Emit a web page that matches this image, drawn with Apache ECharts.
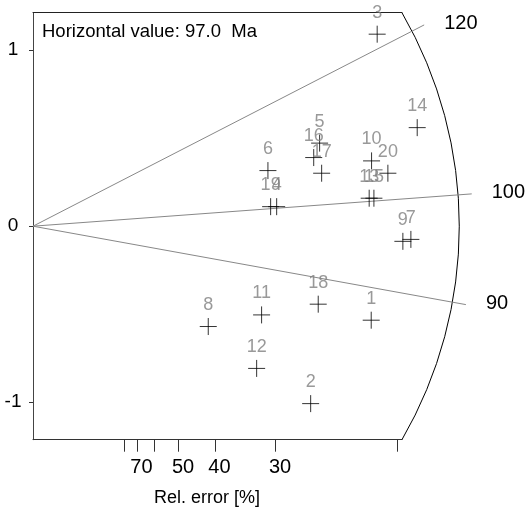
<!DOCTYPE html>
<html>
<head>
<meta charset="utf-8">
<script src="https://cdn.jsdelivr.net/npm/echarts@6/dist/echarts.min.js"></script>
<style>
html,body{margin:0;padding:0;background:#fff;}
#chart{width:528px;height:511px;}
</style>
</head>
<body>
<div id="chart"></div>
<script>
// ---- data ----
const pointLabels = ['1','2','3','4','5','6','7','8','9','10','11','12','13','14','15','16','17','18','19','20'];
// precision (1 / relative error)
const precision = [4.647,3.815,4.729,3.348,3.938,3.228,5.192,2.408,5.082,4.652,3.141,3.073,4.619,5.279,4.684,3.857,3.966,3.919,3.265,4.876];
// standardised estimate
const stdEstimate = [-0.534,-1.008,1.091,0.111,0.472,0.316,-0.075,-0.570,-0.086,0.371,-0.504,-0.808,0.159,0.560,0.159,0.390,0.301,-0.443,0.111,0.301];
const centralValue = 97.0;              // Ma
const zLineValues = [90, 100, 120];     // radial lines (Ma)
const relErrTicks = [80, 70, 60, 50, 40, 30, 20];   // %
const relErrLabels = [70, 50, 40, 30];              // %
const yTicks = [-1, 0, 1];
const xMax = 5.07;
const yMax = 1.213;
const arcPrecision = 5.857;   // where the z-arc crosses the horizontal

const FONT = '"Liberation Sans", Arial, Helvetica, sans-serif';
const chart = echarts.init(document.getElementById('chart'), null, {renderer: 'canvas'});

const option = {
  animation: false,
  backgroundColor: '#fff',
  textStyle: {fontFamily: FONT},
  grid: {left: 33, right: 126, top: 12.7, bottom: 71.3, containLabel: false},
  graphic: [
    {type: 'text', x: 42, y: 32, style: {text: 'Horizontal value: 97.0  Ma', font: '18.5px ' + FONT, fill: '#000', align: 'left', verticalAlign: 'middle'}},
    {type: 'text', x: 207, y: 498, style: {text: 'Rel. error [%]', font: '18px ' + FONT, fill: '#000', align: 'center', verticalAlign: 'middle'}}
  ],
  xAxis: [
    {
      type: 'value', min: 0, max: xMax, position: 'bottom',
      axisLine: {show: true, onZero: false, lineStyle: {color: '#333', width: 1}},
      axisTick: {show: true, length: 12, customValues: relErrTicks.map(e => 100 / e), lineStyle: {color: '#333'}},
      axisLabel: {show: true, customValues: relErrLabels.map(e => 100 / e), formatter: v => String(Math.round(100 / v)),
        fontSize: 20, color: '#000', fontFamily: FONT, margin: 18, padding: [0, 0, 0, 9]},
      splitLine: {show: false}
    },
    {
      type: 'value', min: 0, max: xMax, position: 'top',
      axisLine: {show: true, onZero: false, lineStyle: {color: '#222', width: 1}},
      axisTick: {show: false}, axisLabel: {show: false}, splitLine: {show: false}
    }
  ],
  yAxis: {
    type: 'value', min: -yMax, max: yMax,
    axisLine: {show: true, onZero: false, lineStyle: {color: '#444', width: 1}},
    axisTick: {show: true, length: 4, customValues: yTicks, lineStyle: {color: '#333'}},
    axisLabel: {show: true, customValues: yTicks, fontSize: 19, color: '#000', fontFamily: FONT, align: 'center', margin: 20},
    splitLine: {show: false}
  },
  series: [
    {
      type: 'custom', name: 'arc', clip: false, silent: true,
      data: [[0, 0]],
      renderItem: function (params, api) {
        const o = api.coord([0, 0]);
        const e = api.coord([arcPrecision, 0]);
        const R = e[0] - o[0];
        const t = api.coord([0, yMax]);
        const th = Math.asin((o[1] - t[1]) / R);
        return {type: 'arc', shape: {cx: o[0], cy: o[1], r: R, startAngle: -th, endAngle: th, clockwise: true},
          style: {stroke: '#000', fill: 'none', lineWidth: 1}};
      }
    },
    {
      type: 'custom', name: 'zlines', clip: false, silent: true,
      data: zLineValues.map(z => [0, 0, z]),
      renderItem: function (params, api) {
        const z = api.value(2);
        const o = api.coord([0, 0]);
        const e = api.coord([arcPrecision, 0]);
        const R = e[0] - o[0];
        const p = api.coord([1, Math.log(z / centralValue)]);
        let dx = p[0] - o[0], dy = p[1] - o[1];
        const L = Math.sqrt(dx * dx + dy * dy);
        dx /= L; dy /= L;
        const Re = R * 1.032;
        const ex = o[0] + dx * Re, ey = o[1] + dy * Re;
        return {type: 'group', children: [
          {type: 'line', shape: {x1: o[0], y1: o[1], x2: ex, y2: ey}, style: {stroke: '#888', lineWidth: 1}},
          {type: 'text', x: ex + 20, y: ey - 1.5, style: {text: String(z), font: '20px ' + FONT, fill: '#000', align: 'left', verticalAlign: 'middle'}}
        ]};
      }
    },
    {
      type: 'scatter', name: 'points', clip: false,
      data: precision.map((x, i) => [x, stdEstimate[i], pointLabels[i]]),
      symbol: 'path://M5,0L5,10M0,5L10,5',
      symbolSize: 17,
      itemStyle: {color: 'none', borderColor: '#000', borderWidth: 1},
      label: {show: true, position: 'top', distance: 1.5, formatter: p => p.value[2], fontSize: 18, color: '#808080', fontFamily: FONT},
      emphasis: {disabled: true}
    }
  ]
};
chart.setOption(option);
</script>
</body>
</html>
